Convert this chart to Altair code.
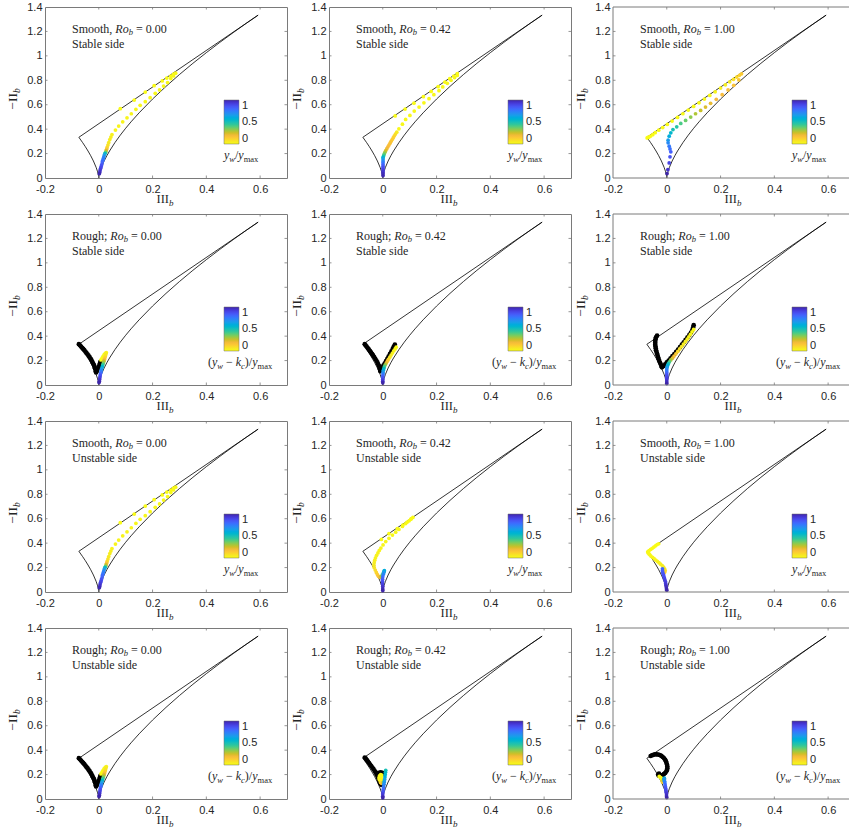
import altair as alt
import pandas as pd

W, H = 242, 171          # plot area of columns 1-2
W3 = 236                 # column 3 is cut at the right edge of the figure
PXU = W / 0.9            # pixels per unit of III_b
X_DOMAIN = [-0.2, 0.7]
X_DOMAIN3 = [-0.2, -0.2 + W3 / PXU]
Y_DOMAIN = [0.0, 1.4]
X_TICKS = [-0.2, 0, 0.2, 0.4, 0.6]
Y_TICKS = [0, 0.2, 0.4, 0.6, 0.8, 1, 1.2, 1.4]
CBAR_TICKS = [0, 0.5, 1]

# reversed parula colormap (0 -> yellow, 1 -> dark blue)
PARULA_R = ["#f9fb15", "#f5e924", "#fccf30", "#f8ba3d", "#d1bf27", "#9dc943", "#64cd6f",
            "#37c897", "#19bfb6", "#08b4d0", "#20a5e3", "#2b91ef", "#327bfc", "#4563fd",
            "#484df0", "#4537d5", "#3e26a8"]

# Lumley triangle boundary (III_b, -II_b), traced right curve -> origin -> left curve -> 2C line
TRI_III = [0.5926, 0.55, 0.5, 0.45, 0.4, 0.35, 0.3, 0.25, 0.2, 0.15, 0.12, 0.1, 0.08, 0.06,
           0.04, 0.03, 0.02, 0.01, 0.005, 0.0025, 0.001, 0.0005, 0.0001, 0.0,
           -0.0001, -0.0005, -0.001, -0.0025, -0.005, -0.01, -0.02, -0.03, -0.04, -0.05,
           -0.06, -0.07407, 0.5926]
TRI_NII = [1.3333, 1.2687, 1.1905, 1.1098, 1.0262, 0.9388, 0.8470, 0.75, 0.6464, 0.5335,
           0.4598, 0.4072, 0.3509, 0.2896, 0.2210, 0.1825, 0.1392, 0.0877, 0.0553, 0.0348,
           0.0189, 0.0119, 0.0041, 0.0,
           0.0041, 0.0119, 0.0189, 0.0348, 0.0553, 0.0877, 0.1392, 0.1825, 0.2210, 0.2565,
           0.2896, 0.3333, 1.3333]

# ---- Smooth, Ro_b = 0.00 (stable and unstable sides coincide)
S0_X = [0.080, 0.132, 0.173, 0.206, 0.236, 0.253, 0.268, 0.278,
        0.286, 0.278, 0.268, 0.256, 0.241, 0.226, 0.210, 0.191, 0.173, 0.154, 0.138, 0.121,
        0.105, 0.089, 0.074, 0.062, 0.049,
        0.045, 0.041, 0.037, 0.034, 0.031, 0.029, 0.027, 0.025, 0.023, 0.021, 0.019, 0.017,
        0.015, 0.013, 0.011, 0.009, 0.007, 0.005, 0.004, 0.002]
S0_Y = [0.567, 0.638, 0.704, 0.756, 0.795, 0.818, 0.835, 0.850,
        0.858, 0.836, 0.814, 0.781, 0.753, 0.721, 0.693, 0.658, 0.625, 0.595, 0.562, 0.526,
        0.493, 0.460, 0.425, 0.392, 0.356,
        0.335, 0.315, 0.290, 0.270, 0.250, 0.235, 0.222, 0.210, 0.200, 0.190, 0.175, 0.160,
        0.145, 0.130, 0.110, 0.095, 0.080, 0.065, 0.050, 0.035]
S0_C = [0, 0, 0, 0, 0, 0, 0, 0,
        0.01, 0.01, 0.01, 0.01, 0.01, 0.01, 0.01, 0.01, 0.015, 0.015, 0.015, 0.02, 0.02,
        0.02, 0.025, 0.025, 0.03,
        0.04, 0.05, 0.06, 0.08, 0.10, 0.17, 0.25, 0.38, 0.52, 0.62, 0.70, 0.74, 0.77, 0.80,
        0.84, 0.87, 0.90, 0.93, 0.96, 0.99]

# ---- Smooth, Ro_b = 0.42, stable side
S42S_X = [0.046, 0.083, 0.116, 0.151, 0.180, 0.206, 0.231, 0.249, 0.264, 0.277,
          0.277, 0.267, 0.254, 0.240, 0.223, 0.209, 0.190, 0.172, 0.153, 0.135, 0.117, 0.101,
          0.085, 0.073, 0.060,
          0.052, 0.047, 0.043, 0.039, 0.035, 0.031, 0.027, 0.023, 0.019, 0.015, 0.011, 0.008,
          0.005, 0.003, 0.001, 0.001, 0.001, 0.001, 0.001, 0.001, 0.001, 0.001, 0.001, 0.001, 0.001]
S42S_Y = [0.508, 0.564, 0.613, 0.666, 0.709, 0.748, 0.785, 0.813, 0.835, 0.855,
          0.840, 0.822, 0.800, 0.775, 0.746, 0.715, 0.682, 0.649, 0.616, 0.581, 0.548, 0.512,
          0.479, 0.441, 0.403,
          0.375, 0.36, 0.345, 0.33, 0.315, 0.3, 0.285, 0.27, 0.255, 0.24, 0.225, 0.21,
          0.195, 0.18, 0.168, 0.155, 0.14, 0.125, 0.11, 0.095, 0.08, 0.065, 0.05, 0.035, 0.02]
S42S_C = [0, 0, 0, 0, 0, 0, 0, 0, 0, 0,
          0.01, 0.01, 0.01, 0.01, 0.01, 0.01, 0.01, 0.01, 0.01, 0.01, 0.01, 0.01, 0.01, 0.01, 0.01,
          0.05, 0.08, 0.1, 0.12, 0.13, 0.15, 0.16, 0.17, 0.18, 0.2, 0.24, 0.3,
          0.38, 0.46, 0.55, 0.64, 0.7, 0.75, 0.8, 0.84, 0.88, 0.91, 0.94, 0.97, 0.99]

# ---- Smooth, Ro_b = 1.00, stable side
S1S_X = [-0.073, -0.070, -0.066, -0.060, -0.052, -0.043, -0.030, -0.015, 0.002, 0.020, 0.040,
         0.060, 0.080, 0.100, 0.120, 0.140, 0.160, 0.180, 0.200, 0.218, 0.234, 0.248, 0.260,
         0.270, 0.278,
         0.268, 0.249, 0.228, 0.206, 0.184, 0.163, 0.144, 0.126, 0.107, 0.089, 0.070, 0.052,
         0.037, 0.023, 0.015, 0.009, 0.005, 0.005, 0.009, 0.012, 0.015, 0.012, 0.009, 0.004, 0.001]
S1S_Y = [0.328, 0.332, 0.335, 0.343, 0.355, 0.371, 0.391, 0.413, 0.439, 0.466, 0.496,
         0.526, 0.556, 0.586, 0.616, 0.646, 0.676, 0.706, 0.736, 0.763, 0.787, 0.808, 0.826,
         0.841, 0.853,
         0.803, 0.759, 0.721, 0.682, 0.644, 0.611, 0.581, 0.553, 0.526, 0.499, 0.471, 0.447,
         0.419, 0.397, 0.370, 0.342, 0.310, 0.288, 0.260, 0.238, 0.214, 0.173, 0.123, 0.068, 0.036]
S1S_C = [0, 0, 0, 0, 0, 0, 0, 0, 0, 0, 0, 0, 0, 0, 0, 0.01, 0.01, 0.02, 0.03, 0.04, 0.06,
         0.08, 0.1, 0.12, 0.14,
         0.15, 0.16, 0.17, 0.18, 0.19, 0.21, 0.23, 0.26, 0.29, 0.33, 0.37, 0.41, 0.46, 0.5,
         0.55, 0.6, 0.66, 0.71, 0.75, 0.78, 0.82, 0.86, 0.9, 0.95, 1.0]

# ---- Rough, Ro_b = 0.00 (stable and unstable sides coincide)
R0_BX = [-0.074, -0.070, -0.066, -0.062, -0.058, -0.054, -0.050, -0.046, -0.042, -0.038,
         -0.034, -0.030, -0.027, -0.024, -0.021, -0.018, -0.016, -0.014, -0.012, -0.011,
         -0.010, -0.007, -0.004, -0.001, 0.002, 0.004, 0.006]
R0_BY = [0.334, 0.325, 0.315, 0.305, 0.295, 0.285, 0.274, 0.263, 0.252, 0.240, 0.228, 0.215,
         0.202, 0.189, 0.176, 0.163, 0.150, 0.137, 0.124, 0.112, 0.103, 0.115, 0.13, 0.145,
         0.16, 0.175, 0.19]
R0_X = [0.008, 0.012, 0.016, 0.020, 0.024, 0.028, 0.027, 0.025, 0.023, 0.021, 0.019, 0.017,
        0.015, 0.013, 0.011, 0.009, 0.008, 0.006, 0.005, 0.004, 0.003, 0.002, 0.001]
R0_Y = [0.205, 0.22, 0.235, 0.248, 0.258, 0.266, 0.255, 0.24, 0.225, 0.21, 0.195, 0.18,
        0.165, 0.15, 0.135, 0.12, 0.105, 0.09, 0.075, 0.06, 0.045, 0.03, 0.02]
R0_C = [0.0, 0.0, 0.01, 0.01, 0.02, 0.03, 0.05, 0.08, 0.12, 0.18, 0.26, 0.35, 0.45, 0.55,
        0.63, 0.7, 0.76, 0.82, 0.87, 0.91, 0.95, 0.98, 1.0]

# ---- Rough, Ro_b = 0.42, stable side
R42S_BX = [-0.067, -0.064, -0.060, -0.056, -0.052, -0.048, -0.044, -0.040, -0.036, -0.032,
           -0.028, -0.024, -0.020, -0.017, -0.014, -0.012, -0.010, -0.009,
           -0.006, -0.002, 0.002, 0.007, 0.012, 0.017, 0.022, 0.027, 0.032, 0.037, 0.041, 0.045]
R42S_BY = [0.334, 0.325, 0.315, 0.303, 0.291, 0.279, 0.267, 0.255, 0.242, 0.229, 0.215, 0.200,
           0.185, 0.170, 0.155, 0.140, 0.125, 0.113,
           0.125, 0.140, 0.158, 0.176, 0.195, 0.215, 0.235, 0.255, 0.275, 0.295, 0.315, 0.330]
R42S_X = [0.050, 0.046, 0.041, 0.036, 0.031, 0.026, 0.021, 0.017, 0.013, 0.009, 0.006, 0.004,
          0.002, 0.001, 0.001, 0.0, 0.0, 0.0, 0.0, 0.0]
R42S_Y = [0.31, 0.295, 0.28, 0.262, 0.245, 0.228, 0.21, 0.195, 0.18, 0.165, 0.15, 0.135,
          0.12, 0.105, 0.09, 0.075, 0.06, 0.045, 0.03, 0.018]
R42S_C = [0.0, 0.01, 0.02, 0.03, 0.05, 0.07, 0.1, 0.15, 0.22, 0.32, 0.42, 0.52, 0.6, 0.67,
          0.74, 0.8, 0.85, 0.9, 0.95, 1.0]

# ---- Rough, Ro_b = 1.00, stable side
R1S_BX = [-0.036, -0.040, -0.042, -0.043, -0.043, -0.043, -0.042, -0.041, -0.040, -0.038,
          -0.036, -0.034, -0.032, -0.030, -0.028, -0.025, -0.022, -0.020, -0.018,
          -0.012, -0.006, 0.0, 0.007, 0.014, 0.021, 0.028, 0.035, 0.042, 0.049, 0.056, 0.063,
          0.070, 0.077, 0.084, 0.090, 0.095, 0.098, 0.100]
R1S_BY = [0.405, 0.39, 0.375, 0.36, 0.345, 0.33, 0.315, 0.30, 0.285, 0.27, 0.255, 0.24, 0.225,
          0.21, 0.196, 0.182, 0.168, 0.155, 0.145,
          0.155, 0.17, 0.185, 0.20, 0.218, 0.236, 0.254, 0.272, 0.29, 0.31, 0.33, 0.35, 0.37,
          0.39, 0.41, 0.43, 0.45, 0.47, 0.49]
R1S_X = [0.100, 0.094, 0.088, 0.082, 0.076, 0.069, 0.062, 0.055, 0.048, 0.041, 0.034, 0.027,
         0.021, 0.015, 0.010, 0.006, 0.003, 0.001, 0.0, 0.0, 0.0, 0.0, 0.0, 0.0, 0.0, 0.0, 0.0]
R1S_Y = [0.455, 0.435, 0.415, 0.395, 0.375, 0.355, 0.335, 0.315, 0.295, 0.275, 0.255, 0.237,
         0.22, 0.205, 0.19, 0.175, 0.16, 0.145, 0.13, 0.115, 0.10, 0.085, 0.07, 0.055, 0.04,
         0.025, 0.012]
R1S_C = [0.0, 0.01, 0.015, 0.02, 0.03, 0.04, 0.05, 0.06, 0.08, 0.1, 0.13, 0.17, 0.22, 0.3,
         0.4, 0.5, 0.58, 0.65, 0.7, 0.75, 0.8, 0.85, 0.88, 0.91, 0.94, 0.97, 1.0]

# ---- Smooth, Ro_b = 0.42, unstable side
S42U_X = [-0.005, 0.023, 0.054, 0.075, 0.091, 0.104, 0.112,
          0.106, 0.098, 0.085, 0.073, 0.060, 0.048, 0.036, 0.023, 0.011, 0.001,
          -0.007, -0.013, -0.018, -0.023, -0.027, -0.030, -0.032, -0.033, -0.032, -0.028,
          -0.024, -0.020, -0.016, -0.011, -0.006, -0.002, 0.002, 0.005, 0.006, 0.004,
          0.002, 0.0, -0.001, -0.001, -0.001, 0.0, 0.0, 0.0]
S42U_Y = [0.43, 0.477, 0.518, 0.548, 0.573, 0.595, 0.61,
          0.60, 0.583, 0.56, 0.537, 0.512, 0.49, 0.466, 0.44, 0.413, 0.385,
          0.36, 0.34, 0.32, 0.30, 0.28, 0.26, 0.24, 0.22, 0.2, 0.18,
          0.16, 0.143, 0.128, 0.12, 0.125, 0.14, 0.155, 0.17, 0.175, 0.16,
          0.145, 0.125, 0.105, 0.085, 0.065, 0.045, 0.025, 0.012]
S42U_C = [0, 0, 0, 0, 0, 0, 0,
          0.005, 0.005, 0.01, 0.01, 0.01, 0.01, 0.01, 0.015, 0.015, 0.02,
          0.02, 0.025, 0.03, 0.03, 0.035, 0.04, 0.05, 0.06, 0.07, 0.09,
          0.11, 0.13, 0.16, 0.2, 0.28, 0.36, 0.45, 0.55, 0.6, 0.66,
          0.72, 0.78, 0.83, 0.87, 0.91, 0.95, 0.98, 1.0]

# ---- Smooth, Ro_b = 1.00, unstable side
S1U_X = [-0.030, -0.036, -0.042, -0.048, -0.054, -0.060, -0.066, -0.071, -0.069, -0.066,
         -0.063, -0.059, -0.053, -0.047, -0.041, -0.035, -0.029, -0.023, -0.017, -0.012,
         -0.008, -0.006, -0.008, -0.012,
         -0.016, -0.016, -0.015, -0.013, -0.011, -0.009, -0.007, -0.005, -0.004, -0.003,
         -0.002, -0.001, 0.0]
S1U_Y = [0.395, 0.388, 0.378, 0.368, 0.358, 0.348, 0.338, 0.328, 0.320, 0.312, 0.304, 0.294,
         0.284, 0.273, 0.262, 0.251, 0.24, 0.228, 0.216, 0.204, 0.19, 0.176, 0.162, 0.152,
         0.19, 0.175, 0.16, 0.145, 0.13, 0.115, 0.1, 0.085, 0.07, 0.055, 0.04, 0.025, 0.015]
S1U_C = [0, 0, 0, 0, 0.005, 0.005, 0.005, 0.01, 0.01, 0.01, 0.015, 0.015, 0.02, 0.02, 0.025,
         0.03, 0.035, 0.04, 0.05, 0.06, 0.07, 0.09, 0.12, 0.16,
         0.8, 0.82, 0.84, 0.86, 0.87, 0.88, 0.9, 0.91, 0.93, 0.95, 0.97, 0.99, 1.0]

# ---- Rough, Ro_b = 0.42, unstable side
R42U_BX = [-0.067, -0.063, -0.059, -0.055, -0.051, -0.047, -0.043, -0.039, -0.035, -0.031,
           -0.027, -0.024, -0.021, -0.018, -0.016, -0.014, -0.012, -0.010, -0.007, -0.003,
           0.001, -0.020, -0.014, -0.008, -0.002, 0.002]
R42U_BY = [0.340, 0.330, 0.318, 0.306, 0.294, 0.282, 0.270, 0.258, 0.246, 0.233, 0.220,
           0.207, 0.194, 0.181, 0.168, 0.155, 0.142, 0.13, 0.12, 0.115, 0.117,
           0.205, 0.215, 0.218, 0.214, 0.205]
R42U_X = [-0.008, -0.012, -0.014, -0.013, -0.010, -0.006, -0.004, -0.006, -0.004,
          -0.008, -0.004, 0.0, 0.003,
          0.011, 0.010, 0.009, 0.008, 0.007, 0.006, 0.004, 0.003, 0.002, 0.001, 0.0, 0.0, 0.0]
R42U_Y = [0.2, 0.19, 0.175, 0.16, 0.15, 0.145, 0.16, 0.18, 0.195,
          0.135, 0.128, 0.13, 0.14,
          0.235, 0.22, 0.2, 0.18, 0.16, 0.14, 0.12, 0.1, 0.08, 0.06, 0.04, 0.022, 0.01]
R42U_C = [0.0, 0.0, 0.01, 0.02, 0.03, 0.04, 0.02, 0.01, 0.0,
          0.1, 0.14, 0.22, 0.35,
          0.5, 0.52, 0.55, 0.58, 0.62, 0.66, 0.7, 0.75, 0.8, 0.86, 0.92, 0.97, 1.0]

# ---- Rough, Ro_b = 1.00, unstable side
R1U_BX = [-0.060, -0.055, -0.050, -0.044, -0.038, -0.032, -0.026, -0.020, -0.015, -0.010,
          -0.006, -0.003, -0.001, 0.001, 0.002, 0.002, 0.001, -0.002, -0.006, -0.011, -0.016,
          -0.021, -0.026, -0.030, -0.032, -0.029]
R1U_BY = [0.352, 0.358, 0.362, 0.365, 0.366, 0.364, 0.360, 0.353, 0.344, 0.333, 0.321, 0.308,
          0.294, 0.280, 0.266, 0.252, 0.238, 0.225, 0.213, 0.203, 0.195, 0.190, 0.188, 0.192,
          0.200, 0.207]
R1U_X = [-0.028, -0.024, -0.020, -0.018, -0.017, -0.016, -0.014, -0.012, -0.010, -0.009,
         -0.009, -0.008, -0.007, -0.006, -0.005, -0.004, -0.003, -0.002, -0.001, -0.001, 0.0]
R1U_Y = [0.185, 0.178, 0.17, 0.16, 0.15, 0.14, 0.145, 0.155, 0.165, 0.17, 0.16, 0.145, 0.13,
         0.115, 0.1, 0.085, 0.07, 0.055, 0.04, 0.025, 0.012]
R1U_C = [0.0, 0.01, 0.02, 0.04, 0.07, 0.1, 0.2, 0.35, 0.5, 0.6, 0.68, 0.72, 0.76, 0.8, 0.83,
         0.86, 0.89, 0.92, 0.95, 0.97, 1.0]

PANELS = [
    ("Smooth,", "0.00", "Stable side", "yw", S0_X, S0_Y, S0_C, [], []),
    ("Smooth,", "0.42", "Stable side", "yw", S42S_X, S42S_Y, S42S_C, [], []),
    ("Smooth,", "1.00", "Stable side", "yw", S1S_X, S1S_Y, S1S_C, [], []),
    ("Rough;", "0.00", "Stable side", "ywkc", R0_X, R0_Y, R0_C, R0_BX, R0_BY),
    ("Rough;", "0.42", "Stable side", "ywkc", R42S_X, R42S_Y, R42S_C, R42S_BX, R42S_BY),
    ("Rough;", "1.00", "Stable side", "ywkc", R1S_X, R1S_Y, R1S_C, R1S_BX, R1S_BY),
    ("Smooth,", "0.00", "Unstable side", "yw", S0_X, S0_Y, S0_C, [], []),
    ("Smooth,", "0.42", "Unstable side", "yw", S42U_X, S42U_Y, S42U_C, [], []),
    ("Smooth,", "1.00", "Unstable side", "yw", S1U_X, S1U_Y, S1U_C, [], []),
    ("Rough;", "0.00", "Unstable side", "ywkc", R0_X, R0_Y, R0_C, R0_BX, R0_BY),
    ("Rough;", "0.42", "Unstable side", "ywkc", R42U_X, R42U_Y, R42U_C, R42U_BX, R42U_BY),
    ("Rough;", "1.00", "Unstable side", "ywkc", R1U_X, R1U_Y, R1U_C, R1U_BX, R1U_BY),
]

# ---------------------------------------------------------------- text helpers
REG = {' ': 250, ',': 250, ';': 278, '.': 250, '=': 564, '(': 333, ')': 333, '/': 278,
       '\u2212': 564, 'I': 333, 'S': 556, 'R': 667, 'U': 722, 'a': 444, 'b': 500, 'd': 500,
       'e': 444, 'g': 500, 'h': 500, 'i': 278, 'l': 278, 'm': 778, 'n': 500, 'o': 500,
       's': 389, 't': 278, 'u': 500, 'x': 500}
ITA = {'R': 611, 'o': 500, 'b': 500, 'y': 444, 'w': 667, 'k': 444, 'c': 444}
BOX = "#7a7a7a"
TICK_LEN = 2.5


def tw(s, fs, it):
    tab = ITA if it else REG
    return sum(tab.get(ch, 500) for ch in s) * fs / 1000.0


def total_width(frags):
    return sum(tw(t, fs, it) for t, fs, it, _ in frags)


def run(frags, x0, y0, angle=0):
    ax, ay, sx, sy = (1, 0, 0, 1) if angle == 0 else (0, -1, 1, 0)
    s = 0.0
    rows = []
    for text, fs, it, shift in frags:
        core = text.strip(' ')
        lead = len(text) - len(text.lstrip(' '))
        trail = len(text) - len(text.rstrip(' '))
        s += lead * tw(' ', fs, False)
        px = x0 + s * ax + shift * sx
        py = y0 + s * ay + shift * sy
        rows.append({"t": core, "tx": -0.2 + px / PXU, "ty": 1.4 - py * 1.4 / H,
                     "fs": fs, "it": it, "ang": angle})
        s += tw(core, fs, it) + trail * tw(' ', fs, False)
    return rows


YS = alt.Scale(domain=Y_DOMAIN, nice=False, zero=False)
XA = alt.Axis(values=X_TICKS, labelExpr="'' + datum.value", title=None, labelPadding=5)
YA = alt.Axis(values=Y_TICKS, labelExpr="'' + datum.value", title=None, labelPadding=3)


def make_panel(idx, wall, ro, side, lab, x, y, c, bx, by):
    col = idx % 3
    w = W if col < 2 else W3
    xs = alt.Scale(domain=X_DOMAIN if col < 2 else X_DOMAIN3, nice=False, zero=False)

    def ex(f):
        return alt.X(f, type="quantitative", scale=xs, axis=XA)

    def ey(f):
        return alt.Y(f, type="quantitative", scale=YS, axis=YA)

    tri = pd.DataFrame({"III": TRI_III, "nII": TRI_NII, "o": list(range(len(TRI_III)))})
    layers = [alt.Chart(tri).mark_line(color="black", strokeWidth=0.8).encode(
        x=ex("III"), y=ey("nII"), order=alt.Order("o:Q"))]

    # inward tick marks on the frame (MATLAB style)
    xt_df = pd.DataFrame({"III": X_TICKS[1:]})
    yt_df = pd.DataFrame({"nII": Y_TICKS[1:-1]})
    layers.append(alt.Chart(xt_df).mark_rule(color=BOX, strokeWidth=0.8).encode(
        x=ex("III"), y=alt.value(H), y2=alt.value(H - TICK_LEN)))
    layers.append(alt.Chart(xt_df).mark_rule(color=BOX, strokeWidth=0.8).encode(
        x=ex("III"), y=alt.value(0), y2=alt.value(TICK_LEN)))
    layers.append(alt.Chart(yt_df).mark_rule(color=BOX, strokeWidth=0.8).encode(
        y=ey("nII"), x=alt.value(0), x2=alt.value(TICK_LEN)))
    if col < 2:
        layers.append(alt.Chart(yt_df).mark_rule(color=BOX, strokeWidth=0.8).encode(
            y=ey("nII"), x=alt.value(w - TICK_LEN), x2=alt.value(w)))

    n = min(len(x), len(y), len(c))
    pts = pd.DataFrame({"III": x[:n], "nII": y[:n], "c": c[:n]})
    legend = alt.Legend(orient="none", legendX=179, legendY=93, direction="vertical",
                        gradientLength=44, gradientThickness=15, values=CBAR_TICKS,
                        format="~g", labelFont="Liberation Sans", labelFontSize=11,
                        labelColor="#262626", labelBaseline="middle", labelOffset=3,
                        title=None, padding=0, gradientStrokeColor="#6e6e6e",
                        gradientStrokeWidth=0.5, labelOverlap=False)
    if bx:
        m = min(len(bx), len(by))
        blk = pd.DataFrame({"III": bx[:m], "nII": by[:m]})
        layers.append(alt.Chart(blk).mark_circle(size=22, color="black", opacity=1).encode(
            x=ex("III"), y=ey("nII")))
    layers.append(alt.Chart(pts).mark_circle(size=14, opacity=1).encode(
        x=ex("III"), y=ey("nII"),
        color=alt.Color("c", type="quantitative",
                        scale=alt.Scale(domain=[0, 1], range=PARULA_R, clamp=True),
                        legend=legend)))

    rows = []
    rows += run([(wall + " ", 12, False, 0), ("Ro", 12, True, 0), ("b", 8.5, True, 2),
                 (" = " + ro, 12, False, 0)], 27, 26)
    rows += run([(side, 12, False, 0)], 27, 40.5)
    xt = [("III", 12.5, False, 0), ("b", 9, True, 3)]
    rows += run(xt, 120 - total_width(xt) / 2, H + 25)
    yt = [("\u2212II", 13.5, False, 0), ("b", 9.5, True, 3)]
    rows += run(yt, -28, 92 + total_width(yt) / 2, angle=270)
    if lab == "yw":
        rows += run([("y", 12, True, 0), ("w", 8.5, True, 3), ("/", 12, False, 0),
                     ("y", 12, True, 0), ("max", 8.5, False, 3)], 179, 152)
    else:
        rows += run([("(", 12, False, 0), ("y", 12, True, 0), ("w", 8.5, True, 3),
                     (" \u2212 ", 12, False, 0), ("k", 12, True, 0), ("c", 8.5, True, 3),
                     (")", 12, False, 0), ("/", 12, False, 0), ("y", 12, True, 0),
                     ("max", 8.5, False, 3)], 163, 152)
    tdf = pd.DataFrame(rows)
    for it in (False, True):
        for ang in (0, 270):
            sub = tdf[(tdf["it"] == it) & (tdf["ang"] == ang)]
            if sub.empty:
                continue
            kw = dict(align="left", baseline="alphabetic", font="Liberation Serif",
                      color="#262626")
            if it:
                kw["fontStyle"] = "italic"
            if ang:
                kw["angle"] = ang
            layers.append(alt.Chart(sub[["t", "tx", "ty", "fs"]]).mark_text(**kw).encode(
                x=ex("tx"), y=ey("ty"), text="t:N",
                size=alt.Size("fs:Q", scale=None, legend=None)))

    one = pd.DataFrame({"k": [0]})
    if idx == 0:
        layers.append(alt.Chart(one).mark_rule(strokeOpacity=0, strokeWidth=1).encode(
            x=alt.value(-44.2), x2=alt.value(-44.2), y=alt.value(20), y2=alt.value(30)))

    props = dict(width=w, height=H)
    if col == 2:
        # the figure is cut at its right edge: draw only top, bottom and left frame lines
        for enc in (dict(x=alt.value(0), x2=alt.value(w), y=alt.value(0)),
                    dict(x=alt.value(0), x2=alt.value(w), y=alt.value(H)),
                    dict(x=alt.value(0), y=alt.value(0), y2=alt.value(H))):
            layers.append(alt.Chart(one).mark_rule(color=BOX, strokeWidth=1).encode(**enc))
        props["view"] = alt.ViewBackground(strokeOpacity=0)

    return alt.layer(*layers).properties(**props)


charts = [make_panel(i, *p) for i, p in enumerate(PANELS)]

chart = alt.concat(*charts, columns=3, spacing={"row": 36, "column": 42}, bounds="flush") \
    .resolve_scale(color="independent") \
    .resolve_legend(color="independent") \
    .properties(padding={"left": 0, "top": 0, "right": 0, "bottom": 0}) \
    .configure_view(stroke=BOX, strokeWidth=1) \
    .configure_axis(labelFont="Liberation Sans", labelFontSize=11, labelColor="#262626",
                    grid=False, domain=False, ticks=False, tickSize=0,
                    labelFlush=False)

chart.save("out.html", embed_options={"renderer": "svg", "actions": False})
